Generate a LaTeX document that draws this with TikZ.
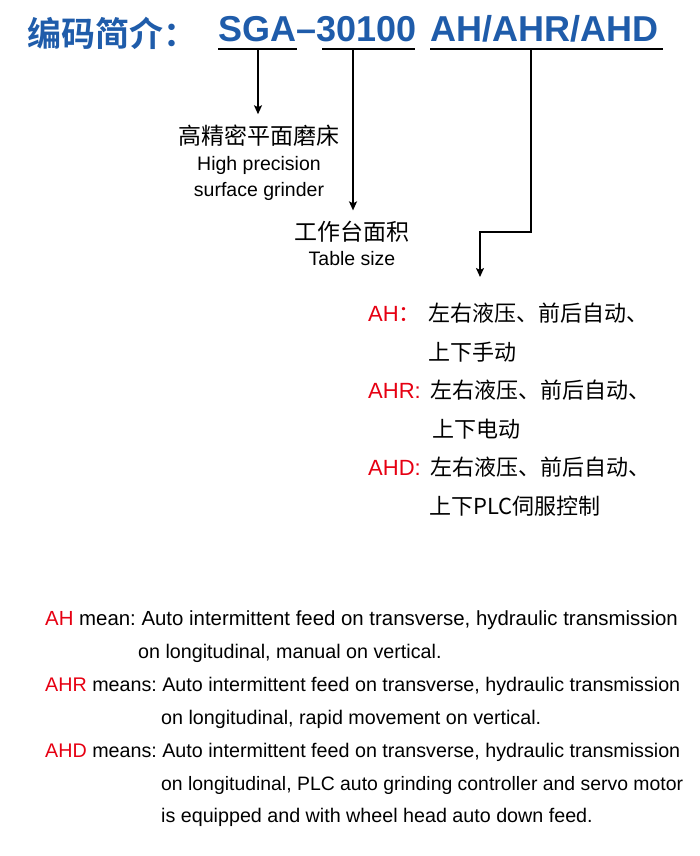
\documentclass[tikz,border=0pt]{standalone}
\usepackage{fontspec}
\setmainfont{Liberation Sans}
\newfontfamily\cjk[BoldFont={Noto Sans CJK SC Bold}]{Noto Sans CJK SC}
\usepackage{tikz}
\usetikzlibrary{arrows.meta,positioning}
\definecolor{codeblue}{RGB}{31,92,170}
\definecolor{codered}{RGB}{230,0,18}
\newcommand{\redtag}[1]{\textcolor{codered}{#1}}
\frenchspacing

\begin{document}
\begin{tikzpicture}[x=1pt, y=-1pt,
  txt/.style={inner sep=0pt, anchor=base west},
  headcn/.style={txt, text=codeblue, font=\cjk\bfseries\fontsize{34}{34}\selectfont},
  headcode/.style={txt, text=codeblue, font=\bfseries\fontsize{36}{36}\selectfont},
  midcn/.style={txt, anchor=base, font=\cjk\fontsize{23}{23}\selectfont},
  miden/.style={txt, anchor=base, font=\fontsize{19.5}{19.5}\selectfont},
  optlabel/.style={txt, text=codered, font=\fontsize{22}{22}\selectfont},
  optcn/.style={txt, font=\cjk\fontsize{22}{22}\selectfont},
  note/.style={txt, font=\fontsize{19.7}{19.7}\selectfont},
  uline/.style={line width=2.5pt},
  arr/.style={-{Stealth[length=9pt, width=8pt, inset=2pt]}, line width=2pt}
]
\useasboundingbox (0,0) rectangle (700,856);

% heading
\node[headcn] (head) at (27,47) {编码简介：};
\node[headcode] (model) at (218,42) {SGA–30100};
\node[headcode] (suffix) at (430,42) {AH/AHR/AHD};

\draw[uline] (218,49) -- (297,49);
\draw[uline] (322,49) -- (415,49);
\draw[uline] (430,49) -- (663,49);

\coordinate (tapType) at (258,49);
\coordinate (tapSize) at (353,49);
\coordinate (tapMode) at (531,49);
\coordinate (elbow) at (480,232);
\coordinate (drop) at (480,277);

% what each part of the code stands for
\node[midcn] (typeCn) at (259,144) {高精密平面磨床};
\node[miden] (typeEn1) at (259,170) {High precision};
\node[miden] (typeEn2) at (259,196) {surface grinder};

\node[midcn] (sizeCn) at (352,240) {工作台面积};
\node[miden] (sizeEn) at (352,265) {Table size};

\draw[arr, shorten >=10pt] (tapType) -- (tapType |- typeCn.north);
\draw[arr, shorten >=10pt] (tapSize) -- (tapSize |- sizeCn.north);
\draw[arr] (tapMode) |- (elbow) -- (drop);

% options
\node[optlabel] (ahTag) at (368,321) {AH{\cjk ：}};
\node[optcn] (ahText1) at (428,321) {左右液压、前后自动、};
\node[optcn] (ahText2) at (428,360) {上下手动};

\node[optlabel] (ahrTag) at (368,398) {AHR:};
\node[optcn] (ahrText1) at (430,398) {左右液压、前后自动、};
\node[optcn] (ahrText2) at (432,437) {上下电动};

\node[optlabel] (ahdTag) at (368,475) {AHD:};
\node[optcn] (ahdText1) at (430,475) {左右液压、前后自动、};
\node[optcn] (ahdText2) at (429,514) {上下PLC伺服控制};

% english notes
\node[note, font=\fontsize{20.4}{20.4}\selectfont] (ahNote1) at (45,625) {\redtag{AH} mean: Auto intermittent feed on transverse, hydraulic transmission};
\node[note] (ahNote2) at (138,658) {on longitudinal, manual on vertical.};
\node[note] (ahrNote1) at (45,691) {\redtag{AHR} means: Auto intermittent feed on transverse, hydraulic transmission};
\node[note] (ahrNote2) at (161,724) {on longitudinal, rapid movement on vertical.};
\node[note] (ahdNote1) at (45,757) {\redtag{AHD} means: Auto intermittent feed on transverse, hydraulic transmission};
\node[note, font=\fontsize{19.4}{19.7}\selectfont] (ahdNote2) at (161,790) {on longitudinal, PLC auto grinding controller and servo motor};
\node[note] (ahdNote3) at (161,822) {is equipped and with wheel head auto down feed.};
\end{tikzpicture}
\end{document}
